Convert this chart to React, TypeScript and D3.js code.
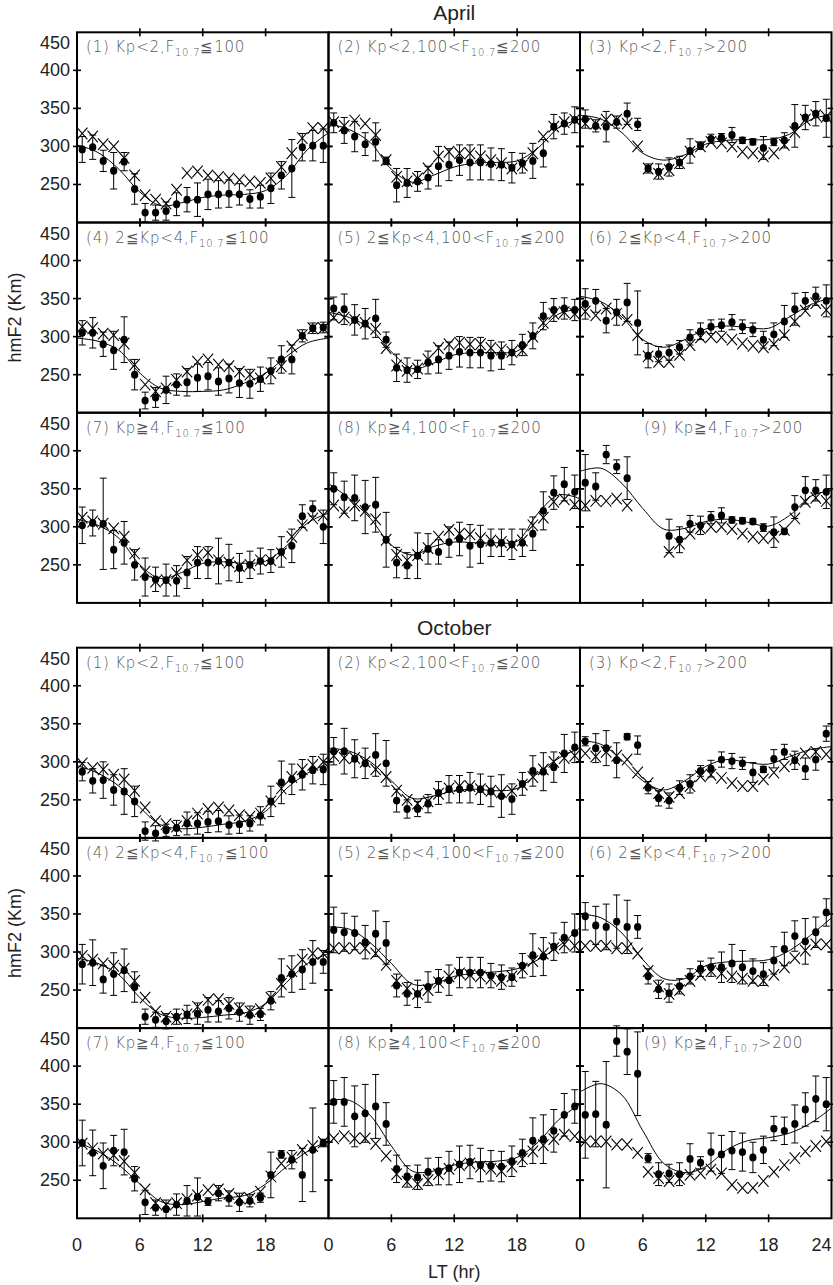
import React from 'react';
import * as d3 from 'd3';

// ---------- categories / ticks ----------
const HOURS = [0.5, 1.5, 2.5, 3.5, 4.5, 5.5, 6.5, 7.5, 8.5, 9.5, 10.5, 11.5, 12.5, 13.5, 14.5, 15.5, 16.5, 17.5, 18.5, 19.5, 20.5, 21.5, 22.5, 23.5];
const FIT_HOURS = [0, 2, 4, 6, 8, 10, 12, 14, 16, 18, 20, 22, 24];
const X_TICKS = [0, 6, 12, 18, 24];
const Y_TICKS = [250, 300, 350, 400, 450];
const MONTHS = ['April', 'October'];

// panel labels: [prefix, subscript, suffix]
const LABELS: [string, string, string][] = [
  ['(1) Kp<2,F', '10.7', '≦100'],
  ['(2) Kp<2,100<F', '10.7', '≦200'],
  ['(3) Kp<2,F', '10.7', '>200'],
  ['(4) 2≦Kp<4,F', '10.7', '≦100'],
  ['(5) 2≦Kp<4,100<F', '10.7', '≦200'],
  ['(6) 2≦Kp<4,F', '10.7', '>200'],
  ['(7) Kp≧4,F', '10.7', '≦100'],
  ['(8) Kp≧4,100<F', '10.7', '≦200'],
  ['(9) Kp≧4,F', '10.7', '>200'],
];

// ---------- April ----------
const A1_DOT = [296, 299, 281, 268, 280, 244, 213, 213, 215, 224, 230, 230, 237, 237, 238, 237, 231, 234, 245, 262, 271, 299, 301, 301];
const A1_ERR = [17, 16, 14, 24, 12, 20, 12, 10, 12, 15, 16, 22, 20, 18, 18, 14, 12, 15, 20, 18, 38, 18, 20, 22];
const A1_X = [317, 313, 303, 300, 285, 262, 236, 230, 225, 243, 265, 267, 262, 260, 258, 256, 254, 252, 258, 273, 291, 311, 324, 324];
const A1_FIT = [302, 292, 270, 240, 222, 226, 233, 236, 237, 242, 262, 296, 318];

const A2_DOT = [331, 321, 313, 303, 306, 281, 249, 252, 254, 259, 274, 276, 282, 279, 279, 277, 276, 272, 278, 281, 291, 326, 330, 335];
const A2_ERR = [13, 17, 20, 15, 25, 5, 22, 19, 13, 15, 26, 21, 20, 23, 23, 21, 21, 20, 13, 23, 18, 16, 14, 17];
const A2_X = [332, 327, 334, 330, 315, 282, 260, 254, 258, 271, 287, 293, 291, 291, 287, 282, 278, 271, 275, 291, 313, 326, 332, 335];
const A2_FIT = [330, 322, 305, 270, 253, 262, 273, 278, 279, 281, 298, 325, 336];

const A3_DOT = [336, 327, 326, 332, 343, 329, 271, 267, 273, 279, 294, 301, 310, 312, 315, 308, 306, 298, 306, 308, 327, 338, 343, 337];
const A3_ERR = [12, 8, 20, 8, 14, 8, 6, 10, 12, 8, 16, 5, 6, 5, 10, 4, 4, 15, 5, 10, 28, 16, 16, 25];
const A3_X = [330, 330, 335, 335, 330, 300, 271, 264, 269, 278, 293, 300, 306, 304, 300, 293, 291, 287, 291, 302, 319, 335, 341, 339];
const A3_FIT = [341, 336, 318, 291, 282, 289, 303, 308, 309, 309, 316, 335, 342];

const A4_DOT = [305, 305, 290, 282, 296, 250, 216, 220, 230, 237, 240, 246, 248, 241, 245, 239, 238, 244, 255, 270, 270, 301, 311, 312];
const A4_ERR = [16, 20, 16, 25, 30, 20, 11, 13, 18, 14, 18, 18, 18, 18, 19, 19, 19, 16, 17, 18, 19, 8, 7, 7];
const A4_X = [313, 311, 304, 302, 291, 263, 237, 228, 232, 243, 254, 267, 270, 263, 261, 254, 250, 245, 252, 261, 287, 302, 311, 311];
const A4_FIT = [298, 294, 282, 252, 232, 228, 228, 230, 239, 252, 274, 292, 298];

const A5_DOT = [337, 336, 322, 317, 324, 296, 259, 256, 257, 266, 270, 275, 280, 279, 279, 275, 275, 279, 289, 301, 327, 335, 337, 335];
const A5_ERR = [15, 20, 20, 20, 25, 10, 18, 16, 12, 15, 18, 18, 20, 20, 20, 20, 18, 16, 14, 17, 18, 15, 14, 14];
const A5_X = [325, 325, 322, 318, 310, 285, 262, 255, 258, 270, 285, 290, 292, 290, 290, 285, 283, 280, 282, 300, 318, 330, 332, 330];
const A5_FIT = [332, 325, 310, 280, 258, 265, 276, 279, 279, 281, 305, 330, 336];

const A6_DOT = [343, 347, 321, 332, 345, 318, 275, 277, 279, 286, 299, 307, 313, 315, 319, 313, 309, 296, 303, 320, 336, 347, 353, 347];
const A6_ERR = [20, 15, 16, 17, 25, 42, 16, 10, 10, 9, 10, 11, 9, 8, 10, 9, 9, 11, 15, 21, 21, 11, 12, 21];
const A6_X = [333, 328, 337, 330, 322, 302, 274, 267, 267, 276, 289, 299, 300, 299, 296, 291, 288, 286, 290, 302, 320, 334, 344, 335];
const A6_FIT = [353, 346, 326, 296, 286, 296, 310, 314, 312, 311, 326, 342, 351];

const A7_DOT = [302, 305, 304, 270, 279, 250, 234, 231, 230, 229, 240, 253, 253, 255, 253, 246, 250, 255, 255, 267, 275, 314, 324, 300];
const A7_ERR = [24, 17, 60, 25, 28, 20, 25, 16, 21, 20, 21, 21, 21, 30, 24, 19, 18, 17, 15, 20, 22, 15, 10, 22];
const A7_X = [312, 307, 304, 298, 287, 265, 241, 228, 230, 239, 256, 263, 266, 256, 253, 248, 250, 256, 256, 265, 287, 302, 311, 315];
const A7_FIT = [310, 302, 285, 250, 232, 240, 252, 254, 252, 255, 275, 305, 318];

const A8_DOT = [350, 339, 338, 326, 329, 283, 253, 249, 262, 271, 267, 280, 284, 275, 277, 279, 279, 277, 279, 291, 321, 345, 356, 346];
const A8_ERR = [21, 21, 30, 35, 36, 36, 20, 17, 30, 20, 16, 20, 22, 28, 25, 18, 18, 20, 18, 22, 25, 22, 22, 22];
const A8_X = [328, 319, 328, 321, 310, 283, 263, 256, 263, 272, 287, 296, 291, 290, 285, 282, 280, 276, 282, 302, 312, 333, 336, 329];
const A8_FIT = [357, 337, 311, 276, 263, 274, 280, 279, 279, 281, 318, 342, 337];

const A9_DOT = [358, 353, 395, 379, 364, null, null, null, 288, 283, 304, 302, 312, 315, 309, 308, 307, 299, 293, 294, 326, 348, 348, 346];
const A9_ERR = [37, 18, 12, 9, 28, 0, 0, 0, 22, 17, 11, 12, 8, 10, 4, 4, 3.5, 5, 20, 3, 15, 18, 14, 22];
const A9_X = [328, 334, 334, 337, 328, null, null, null, 267, 278, 291, 298, 300, 300, 297, 291, 287, 285, 287, 296, 311, 333, 338, 334];
const A9_FIT = [373, 377, 357, 324, 297, 298, 307, 310, 306, 301, 315, 340, 348];

// ---------- October ----------
const O1_DOT = [287, 275, 276, 263, 261, 248, 209, 206, 210, 213, 219, 219, 221, 222, 217, 218, 219, 229, 248, 273, 277, 283, 289, 290];
const O1_ERR = [12, 16, 24, 20, 30, 20, 12, 10, 8, 10, 15, 14, 14, 14, 12, 12, 10, 12, 20, 28, 20, 20, 18, 20];
const O1_X = [298, 292, 290, 283, 277, 262, 240, 222, 218, 215, 222, 232, 238, 240, 236, 230, 228, 232, 248, 265, 280, 290, 296, 300];
const O1_FIT = [295, 285, 268, 240, 217, 212, 214, 218, 222, 235, 265, 285, 298];

const O2_DOT = [314, 314, 304, 298, 309, 298, 249, 238, 238, 245, 259, 264, 264, 266, 264, 261, 255, 251, 271, 288, 287, 293, 311, 319];
const O2_ERR = [18, 30, 25, 20, 28, 30, 15, 12, 10, 12, 15, 18, 18, 20, 20, 20, 28, 20, 15, 20, 25, 20, 25, 20];
const O2_X = [308, 305, 305, 300, 290, 280, 262, 250, 245, 248, 258, 265, 268, 268, 264, 262, 260, 262, 270, 280, 290, 300, 305, 308];
const O2_FIT = [318, 314, 300, 275, 252, 255, 262, 264, 262, 265, 285, 305, 318];

const O3_DOT = [327, 318, 318, 302, 333, 322, 266, 252, 249, 266, 271, 288, 291, 303, 301, 298, 286, 290, 304, 313, 302, 291, 303, 337];
const O3_ERR = [6, 19, 23, 23, 4, 12, 8, 10, 10, 9, 12, 7, 11, 10, 10, 8, 13, 4, 12, 10, 12, 14, 14, 10];
const O3_X = [311, 307, 313, 308, 303, 286, 272, 259, 254, 259, 268, 281, 283, 279, 272, 268, 268, 277, 286, 294, 303, 311, 313, 310];
const O3_FIT = [328, 323, 302, 275, 263, 275, 294, 303, 299, 297, 307, 316, 320];

const O4_DOT = [284, 286, 264, 271, 276, 254, 215, 211, 209, 215, 218, 219, 224, 222, 226, 221, 217, 218, 236, 266, 271, 277, 287, 287];
const O4_ERR = [26, 30, 18, 28, 28, 20, 10, 10, 10, 10, 12, 14, 16, 14, 14, 12, 12, 8, 12, 25, 24, 26, 28, 15];
const O4_X = [295, 290, 285, 282, 278, 262, 240, 222, 215, 212, 218, 228, 237, 238, 232, 226, 222, 225, 240, 258, 275, 290, 298, 298];
const O4_FIT = [292, 285, 270, 240, 218, 213, 214, 217, 220, 232, 260, 285, 298];

const O5_DOT = [329, 326, 325, 313, 324, 312, 256, 245, 245, 254, 262, 263, 273, 273, 273, 269, 267, 267, 282, 296, 294, 307, 319, 325];
const O5_ERR = [30, 25, 22, 22, 30, 28, 15, 15, 18, 20, 15, 20, 20, 20, 20, 16, 16, 12, 16, 28, 25, 18, 20, 25];
const O5_X = [305, 305, 305, 305, 298, 283, 262, 252, 245, 250, 260, 268, 272, 270, 268, 265, 262, 268, 278, 288, 298, 305, 310, 308];
const O5_FIT = [333, 330, 312, 285, 258, 258, 268, 272, 274, 278, 290, 308, 332];

const O6_DOT = [347, 335, 333, 340, 333, 333, 268, 251, 246, 255, 268, 278, 280, 280, 285, 280, 275, 271, 289, 304, 321, 314, 326, 352];
const O6_ERR = [18, 25, 30, 35, 35, 15, 10, 12, 12, 10, 10, 10, 12, 20, 25, 22, 16, 15, 18, 22, 20, 30, 20, 18];
const O6_X = [308, 308, 308, 305, 305, 298, 275, 255, 245, 250, 262, 270, 275, 272, 268, 265, 262, 262, 270, 280, 292, 302, 310, 310];
const O6_FIT = [350, 345, 325, 290, 265, 265, 282, 287, 288, 290, 302, 322, 345];

const O7_DOT = [299, 286, 269, 289, 287, 252, 221, 214, 212, 218, 223, 228, 222, 233, 226, 221, 223, 227, 257, 284, 277, 257, 290, 299];
const O7_ERR = [30, 30, 30, 20, 30, 16, 16, 10, 12, 14, 20, 25, 5, 10, 10, 12, 8, 6, 30, 5, 12, 35, 55, 5];
const O7_X = [298, 292, 285, 283, 275, 260, 238, 220, 218, 220, 225, 230, 237, 238, 232, 227, 226, 235, 255, 272, 280, 290, 295, 300];
const O7_FIT = [300, 288, 270, 245, 222, 218, 222, 227, 230, 245, 268, 288, 302];

const O8_DOT = [353, 353, 334, 338, 347, 324, 265, 255, 254, 261, 262, 266, 271, 274, 270, 269, 268, 275, 286, 302, 304, 315, 336, 347];
const O8_ERR = [28, 32, 40, 38, 42, 28, 18, 14, 16, 18, 18, 22, 24, 22, 22, 20, 20, 20, 18, 30, 32, 28, 28, 22];
const O8_X = [305, 308, 305, 305, 298, 282, 258, 248, 245, 250, 258, 265, 270, 272, 268, 265, 262, 268, 278, 288, 296, 304, 310, 308];
const O8_FIT = [355, 355, 335, 295, 262, 262, 270, 274, 275, 280, 300, 330, 350];

const O9_DOT = [336, 337, 323, 433, 419, 390, 279, 258, 259, 258, 278, 273, 287, 284, 289, 287, 280, 290, 318, 315, 324, 343, 357, 350];
const O9_ERR = [57, 43, 83, 20, 30, 55, 6, 15, 12, 15, 20, 8, 25, 25, 25, 25, 20, 18, 16, 18, 25, 22, 30, 35];
const O9_X = [301, 301, 301, 297, 297, 286, 261, 253, 249, 252, 257, 259, 264, 259, 244, 240, 240, 249, 261, 270, 279, 288, 295, 301];
const O9_FIT = [366, 377, 362, 315, 272, 260, 268, 290, 302, 306, 312, 325, 345];

type Series = { dot: (number | null)[]; err: number[]; cross: (number | null)[]; fit: number[] };
const APRIL: Series[] = [
  { dot: A1_DOT, err: A1_ERR, cross: A1_X, fit: A1_FIT },
  { dot: A2_DOT, err: A2_ERR, cross: A2_X, fit: A2_FIT },
  { dot: A3_DOT, err: A3_ERR, cross: A3_X, fit: A3_FIT },
  { dot: A4_DOT, err: A4_ERR, cross: A4_X, fit: A4_FIT },
  { dot: A5_DOT, err: A5_ERR, cross: A5_X, fit: A5_FIT },
  { dot: A6_DOT, err: A6_ERR, cross: A6_X, fit: A6_FIT },
  { dot: A7_DOT, err: A7_ERR, cross: A7_X, fit: A7_FIT },
  { dot: A8_DOT, err: A8_ERR, cross: A8_X, fit: A8_FIT },
  { dot: A9_DOT, err: A9_ERR, cross: A9_X, fit: A9_FIT },
];
const OCTOBER: Series[] = [
  { dot: O1_DOT, err: O1_ERR, cross: O1_X, fit: O1_FIT },
  { dot: O2_DOT, err: O2_ERR, cross: O2_X, fit: O2_FIT },
  { dot: O3_DOT, err: O3_ERR, cross: O3_X, fit: O3_FIT },
  { dot: O4_DOT, err: O4_ERR, cross: O4_X, fit: O4_FIT },
  { dot: O5_DOT, err: O5_ERR, cross: O5_X, fit: O5_FIT },
  { dot: O6_DOT, err: O6_ERR, cross: O6_X, fit: O6_FIT },
  { dot: O7_DOT, err: O7_ERR, cross: O7_X, fit: O7_FIT },
  { dot: O8_DOT, err: O8_ERR, cross: O8_X, fit: O8_FIT },
  { dot: O9_DOT, err: O9_ERR, cross: O9_X, fit: O9_FIT },
];
const BLOCKS = [APRIL, OCTOBER];

// ---------- layout ----------
const W = 833;
const H = 1285;
const LEFT = 77;
const PW = 251.5;
const PH = 190.2;
const BLOCK_TOP = [32.3, 647.7];
const TICK = 4;
const FONT = "'Liberation Sans', Arial, Helvetica, sans-serif";
const LABEL_FONT = "'DejaVu Sans', 'Liberation Sans', sans-serif";

function Panel({ s, idx, top }: { s: Series; idx: number; top: number }) {
  const col = idx % 3;
  const row = Math.floor(idx / 3);
  const x0 = LEFT + col * PW;
  const y0 = top + row * PH;
  const x = d3.scaleLinear().domain([0, 24]).range([x0, x0 + PW]);
  const y = d3.scaleLinear().domain([200, 450]).range([y0 + PH, y0]);
  const line = d3
    .line<number>()
    .x((_, i) => x(FIT_HOURS[i]))
    .y((d) => y(d))
    .curve(d3.curveCatmullRom.alpha(0.5));
  const lab = LABELS[idx];
  const labX = idx === 8 ? x0 + 64 : x0 + 9;
  return (
    <g>
      <path d={line(s.fit) || ''} fill="none" stroke="#000" strokeWidth={1} />
      {HOURS.map((h, i) => {
        const v = s.dot[i];
        if (v == null) return null;
        const e = s.err[i];
        const cx = x(h);
        return (
          <g key={'e' + i} stroke="#000" strokeWidth={1}>
            <line x1={cx} x2={cx} y1={y(v - e)} y2={y(v + e)} />
            <line x1={cx - 3.5} x2={cx + 3.5} y1={y(v + e)} y2={y(v + e)} />
            <line x1={cx - 3.5} x2={cx + 3.5} y1={y(v - e)} y2={y(v - e)} />
          </g>
        );
      })}
      {HOURS.map((h, i) => {
        const v = s.dot[i];
        if (v == null) return null;
        return <ellipse key={'d' + i} cx={x(h)} cy={y(v)} rx={3.6} ry={3.9} fill="#000" />;
      })}
      {HOURS.map((h, i) => {
        const v = s.cross[i];
        if (v == null) return null;
        const cx = x(h);
        const cy = y(v);
        return (
          <path
            key={'x' + i}
            d={`M${cx - 5.2},${cy - 5.8}L${cx + 5.2},${cy + 5.8}M${cx - 5.2},${cy + 5.8}L${cx + 5.2},${cy - 5.8}`}
            stroke="#000"
            strokeWidth={1.1}
            fill="none"
          />
        );
      })}
      {Y_TICKS.slice(0, 4).map((t) => (
        <g key={'yt' + t} stroke="#000" strokeWidth={1.6}>
          <line x1={x0 - TICK} x2={x0 + TICK} y1={y(t)} y2={y(t)} />
          <line x1={x0 + PW - TICK} x2={x0 + PW + TICK} y1={y(t)} y2={y(t)} />
        </g>
      ))}
      {X_TICKS.slice(1, 4).map((t) => (
        <g key={'xt' + t} stroke="#000" strokeWidth={1.6}>
          <line x1={x(t)} x2={x(t)} y1={y0 - TICK} y2={y0 + TICK} />
          <line x1={x(t)} x2={x(t)} y1={y0 + PH - TICK} y2={y0 + PH + TICK} />
        </g>
      ))}
      <rect x={x0} y={y0} width={PW} height={PH} fill="none" stroke="#000" strokeWidth={2} />
      <text x={labX} y={y0 + 20} fontFamily={LABEL_FONT} fontSize={15} fill="#555" letterSpacing={0.8} fontWeight={300}>
        {lab[0]}
        <tspan fontSize={10} dy={4}>{lab[1]}</tspan>
        <tspan fontSize={15} dy={-4}>{lab[2]}</tspan>
      </text>
      {col === 0 &&
        Y_TICKS.map((t) => (
          <text
            key={'yl' + t}
            x={70}
            y={t === 450 ? y0 + 11 : y(t)}
            textAnchor="end"
            dominantBaseline="central"
            fontFamily={FONT}
            fontSize={18}
            fill="#222"
          >
            {t}
          </text>
        ))}
    </g>
  );
}

export default function App() {
  const lastTop = BLOCK_TOP[1] + 3 * PH;
  const xAxisLabels: { v: number; pos: number; anchor: string }[] = [];
  for (let c = 0; c < 3; c++) {
    const xs = d3.scaleLinear().domain([0, 24]).range([LEFT + c * PW, LEFT + (c + 1) * PW]);
    X_TICKS.forEach((t) => {
      if (t === 24 && c < 2) return;
      xAxisLabels.push({ v: t, pos: xs(t), anchor: t === 24 ? 'end' : 'middle' });
    });
  }
  return (
    <svg width={W} height={H} style={{ position: 'absolute', left: 0, top: 0, background: '#fff' }}>
      <rect x={0} y={0} width={W} height={H} fill="#fff" />
      {BLOCKS.map((blk, b) => (
        <g key={'b' + b}>
          <text
            x={LEFT + 1.5 * PW}
            y={BLOCK_TOP[b] - 20}
            textAnchor="middle"
            dominantBaseline="central"
            fontFamily={FONT}
            fontSize={21}
            fill="#222"
          >
            {MONTHS[b]}
          </text>
          <text
            transform={`translate(15,${BLOCK_TOP[b] + 1.5 * PH}) rotate(-90)`}
            textAnchor="middle"
            dominantBaseline="central"
            fontFamily={FONT}
            fontSize={18}
            fill="#222"
          >
            hmF2 (Km)
          </text>
          {blk.map((s, i) => (
            <Panel key={i} s={s} idx={i} top={BLOCK_TOP[b]} />
          ))}
        </g>
      ))}
      {xAxisLabels.map((l, i) => (
        <text
          key={'xl' + i}
          x={l.pos}
          y={lastTop + 27}
          textAnchor={l.anchor as any}
          dominantBaseline="central"
          fontFamily={FONT}
          fontSize={18}
          fill="#222"
        >
          {l.v}
        </text>
      ))}
      <text x={LEFT + 1.5 * PW} y={H - 13} textAnchor="middle" dominantBaseline="central" fontFamily={FONT} fontSize={18} fill="#222">
        LT (hr)
      </text>
    </svg>
  );
}
